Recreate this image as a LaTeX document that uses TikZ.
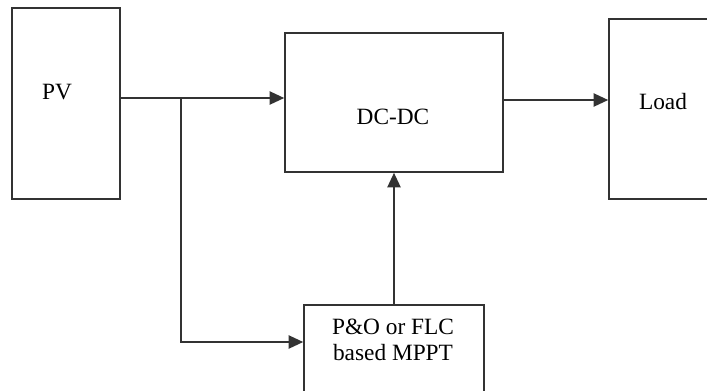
\documentclass[tikz,border=0pt]{standalone}
\usepackage{fontspec}
\setmainfont{Liberation Serif}
\usetikzlibrary{arrows.meta}

\begin{document}
\begin{tikzpicture}
            [
            x=0.75pt, y=-0.75pt,
            block/.style={draw=black!80,line width=1.2pt,inner sep=0pt},
            caption/.style={font={\fontsize{17.5}{20}\selectfont},align=center,inner sep=0pt},
            link/.style={draw=black!80,line width=1.2pt,
                -{Triangle[length=11pt,width=10pt]}},
            ]
            \useasboundingbox (0,0) rectangle (707,390);
            \clip (0,0) rectangle (707,390);

            % Blocks
            \node[block,minimum width=81pt,minimum height=143.25pt] (pv) at (66,103.5) {};
            \node[block,minimum width=163.5pt,minimum height=104.25pt] (dcdc) at (394,102.5) {};
            \node[block,minimum width=90pt,minimum height=135pt] (load) at (669,109) {};
            \node[block,minimum width=135pt,minimum height=75pt] (mppt) at (394,355) {};

            % Texts
            \node[caption] (pvtext) at (57,92.5) {PV};
            \node[caption] (dcdctext) at (393,116.5) {DC-DC};
            \node[caption] (loadtext) at (663,102) {Load};
            \node[caption] (mppttext) at (393,340) {P\&O or FLC\\based MPPT};

            % Arrows
            \coordinate (split) at (181,98);
            \coordinate (tap) at (181,342);
            \draw[link] (pv.east |- split) -- (dcdc.west |- split);
            \draw[link] (split) -- (tap) -- (mppt.west |- tap);
            \draw[link] (mppt.north) -- (dcdc.south);
            \draw[link] (dcdc.east |- 0,100) -- (load.west |- 0,100);
        \end{tikzpicture}
\end{document}
